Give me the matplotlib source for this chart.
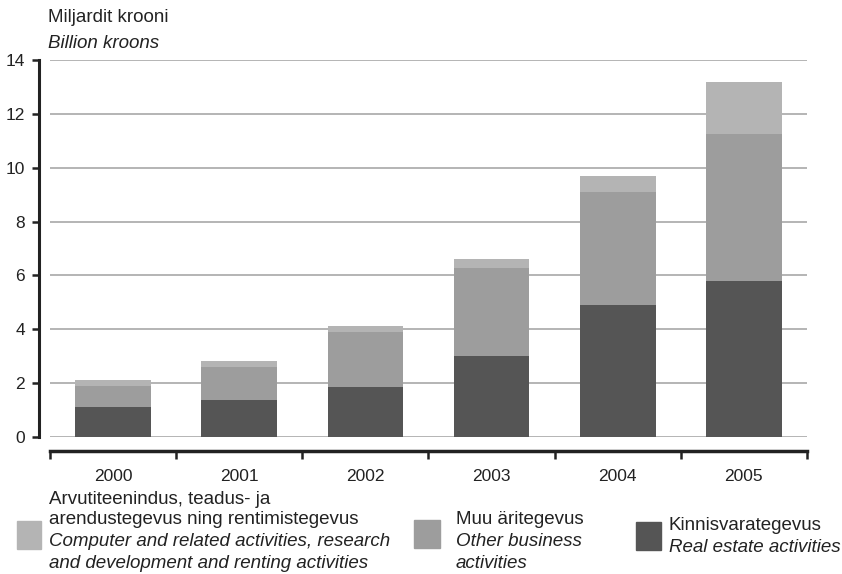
import matplotlib
matplotlib.use("Agg")
import matplotlib.pyplot as plt
from matplotlib.patches import Rectangle
import numpy as np

plt.rcParams['font.family'] = ['Liberation Sans', 'DejaVu Sans']

years = ['2000', '2001', '2002', '2003', '2004', '2005']
real_estate = [1.12, 1.38, 1.86, 3.01, 4.90, 5.78]
other_business = [0.78, 1.22, 2.04, 3.26, 4.18, 5.48]
computer = [0.22, 0.22, 0.22, 0.33, 0.63, 1.93]
yticks = [0, 2, 4, 6, 8, 10, 12, 14]

c_dark = '#555555'
c_mid = '#9d9d9d'
c_light = '#b4b4b4'
axis_col = '#222222'
txt_col = '#222222'
fs = 13.5
tick_fs = 12.5

W, H = 842, 574
fig = plt.figure(figsize=(W / 100, H / 100), dpi=100)
ax = fig.add_axes([50 / W, 1 - 437 / H, (807 - 50) / W, (437 - 60) / H])

x = np.arange(len(years))
re = np.array(real_estate)
ob = np.array(other_business)
cp = np.array(computer)
ax.bar(x, re, width=0.6, color=c_dark, zorder=3)
ax.bar(x, ob, width=0.6, bottom=re, color=c_mid, zorder=3)
ax.bar(x, cp, width=0.6, bottom=re + ob, color=c_light, zorder=3)

ax.set_xlim(-0.5, len(years) - 0.5)
ax.set_ylim(0, 14)
ax.set_yticks(yticks)
ax.set_yticklabels([str(v) for v in yticks])
for v in yticks:
    ax.axhline(v, color='#a8a8a8', lw=1.2, zorder=1)

# x ticks at category boundaries, labels at centres
ax.set_xticks(np.arange(-0.5, len(years), 1.0))
ax.set_xticklabels([])
ax.set_xticks(x, minor=True)
ax.set_xticklabels(years, minor=True)
ax.tick_params(axis='x', which='major', length=6, width=1.8, color=axis_col, direction='out')
ax.tick_params(axis='x', which='minor', length=0, pad=13, labelsize=tick_fs, labelcolor=txt_col)
ax.tick_params(axis='y', length=5, width=1.8, color=axis_col, pad=5, labelsize=tick_fs, labelcolor=txt_col)

for s in ['top', 'right']:
    ax.spines[s].set_visible(False)
ax.spines['left'].set_position(('outward', 8))
ax.spines['bottom'].set_position(('outward', 10))
ax.spines['left'].set_linewidth(2.2)
ax.spines['bottom'].set_linewidth(2.5)
ax.spines['left'].set_color(axis_col)
ax.spines['bottom'].set_color(axis_col)

# axis unit labels
fig.text(48 / W, 1 - 18 / H, 'Miljardit krooni', fontsize=fs, va='center', color=txt_col)
fig.text(48 / W, 1 - 44 / H, 'Billion kroons', fontsize=fs, style='italic', va='center', color=txt_col)

# legend drawn by hand
def patch(x0, y0, x1, y1, col):
    fig.patches.append(Rectangle((x0 / W, 1 - y1 / H), (x1 - x0) / W, (y1 - y0) / H,
                                 transform=fig.transFigure, color=col))

def line(xp, yp, s, it=False):
    fig.text(xp / W, 1 - yp / H, s, fontsize=fs, va='center', color=txt_col,
             style='italic' if it else 'normal')

patch(17, 521, 41, 549, c_light)
line(49, 499, 'Arvutiteenindus, teadus- ja')
line(49, 520, 'arendustegevus ning rentimistegevus')
line(49, 542, 'Computer and related activities, research', True)
line(49, 563, 'and development and renting activities', True)

patch(414, 520, 440, 548, c_mid)
line(456, 519, 'Muu äritegevus')
line(456, 541, 'Other business', True)
line(456, 563, 'activities', True)

patch(636, 522, 661, 550, c_dark)
line(669, 526, 'Kinnisvarategevus')
line(669, 548, 'Real estate activities', True)

fig.savefig('out.png', dpi=100)
